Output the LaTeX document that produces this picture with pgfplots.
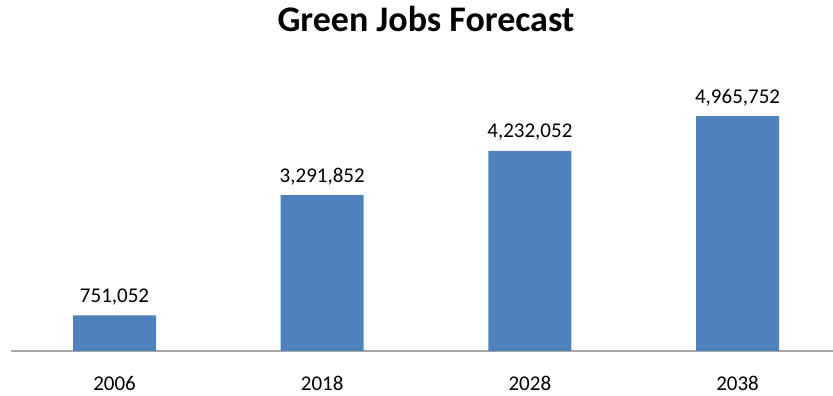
\documentclass[border=0pt]{standalone}
\usepackage{fontspec}
\setmainfont{Carlito}
\usepackage{pgfplots}
\pgfplotsset{compat=1.18}
\definecolor{barblue}{HTML}{4F81BD}
\definecolor{axgray}{HTML}{A6A6A6}
\begin{document}
\begin{tikzpicture}[x=1pt,y=1pt]
\useasboundingbox (0,0) rectangle (833,396);
\node[font=\fontsize{36}{40}\selectfont\bfseries, anchor=base, inner sep=0pt] at (426,364) {Green Jobs Forecast};
\begin{axis}[
  at={(10.7pt,45pt)}, anchor=south west,
  scale only axis, width=830.7pt, height=283.9pt,
  xmin=-0.5, xmax=3.5, ymin=0, ymax=6000000,
  axis x line=bottom, axis y line=none,
  x axis line style={-, draw=axgray, line width=1.5pt},
  xtick={0,1,2,3}, xticklabels={2006,2018,2028,2038},
  major tick length=0pt,
  xticklabel style={font=\fontsize{21}{24}\selectfont, anchor=base, yshift=-40pt, inner sep=0pt},
  ytick=\empty,
  clip=false,
  point meta=explicit symbolic,
  nodes near coords,
  every node near coord/.append style={font=\fontsize{21}{24}\selectfont, anchor=base, inner sep=0pt, yshift=13pt, text=black},
]
\addplot[ybar, bar width=83pt, fill=barblue, draw=none] table[meta=label] {
x y label
0 751052 751,052
1 3291852 3,291,852
2 4232052 4,232,052
3 4965752 4,965,752
};
\end{axis}
\end{tikzpicture}
\end{document}
